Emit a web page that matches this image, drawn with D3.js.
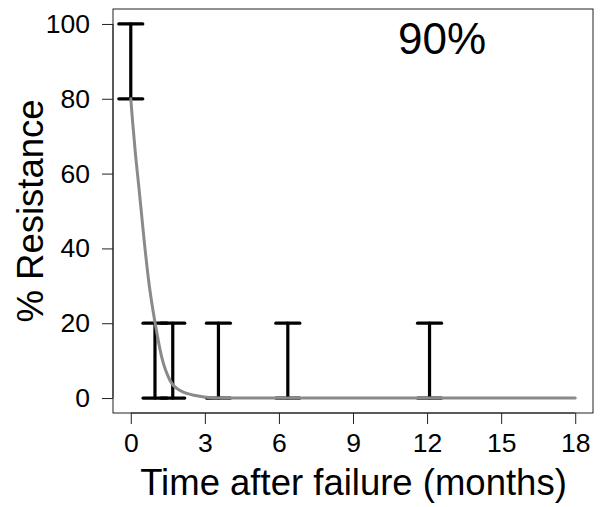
<!DOCTYPE html>
<html>
<head>
<meta charset="utf-8">
<script src="https://cdn.jsdelivr.net/npm/d3@7"></script>
<style>
  body { margin: 0; background: #fff; }
  svg text { font-family: "Liberation Sans", Arial, sans-serif; fill: #000; }
</style>
</head>
<body>
<svg id="chart" width="601" height="507"></svg>
<script>
// error bars: time (months), low and high % resistance
const barTimes = [0, 0.98, 1.7, 3.55, 6.36, 12.1];
const barLow = [80, 0, 0, 0, 0, 0];
const barHigh = [100, 20, 20, 20, 20, 20];

// fitted curve
const curveTimes = [0, 0.08, 0.2, 0.34, 0.54, 0.75, 1.0, 1.25, 1.59, 2.0, 2.67, 3.3, 4, 18];
const curveValues = [80, 73.4, 64.5, 55.6, 42.2, 30, 19.5, 11, 4.7, 2.0, 0.6, 0.1, 0, 0];

const xTicks = [0, 3, 6, 9, 12, 15, 18];
const yTicks = [0, 20, 40, 60, 80, 100];
const panelLabel = "90%";

const svg = d3.select("#chart");

// R-style 4% padding round the data range
const x = d3.scaleLinear().domain([-0.72, 18.72]).range([113, 593]);
const y = d3.scaleLinear().domain([-4, 104]).range([413, 9]);

/*
 *  Box and axes
 */
svg.append("rect")
    .attr("x", x.range()[0]).attr("y", y.range()[1])
    .attr("width", x.range()[1] - x.range()[0])
    .attr("height", y.range()[0] - y.range()[1])
    .attr("fill", "none").attr("stroke", "#222").attr("stroke-width", 1);

const xAxis = svg.append("g")
    .attr("transform", "translate(0," + y.range()[0] + ")")
    .call(d3.axisBottom(x).tickValues(xTicks).tickSize(11).tickPadding(9).tickSizeOuter(0));
xAxis.select(".domain").attr("d", "M" + x(0) + ",0H" + x(18));
xAxis.selectAll("text").attr("font-size", 26.5).attr("font-family", "Liberation Sans, Arial, sans-serif");

const yAxis = svg.append("g")
    .attr("transform", "translate(" + x.range()[0] + ",0)")
    .call(d3.axisLeft(y).tickValues(yTicks).tickSize(11).tickPadding(12).tickSizeOuter(0));
yAxis.select(".domain").attr("d", "M0," + y(0) + "V" + y(100));
yAxis.selectAll("text").attr("font-size", 26.5).attr("font-family", "Liberation Sans, Arial, sans-serif");

svg.selectAll(".domain, .tick line").attr("stroke", "#222");

svg.append("text")
    .attr("x", (x.range()[0] + x.range()[1]) / 2 + 0.5)
    .attr("y", 495)
    .attr("text-anchor", "middle")
    .attr("font-size", 36.5)
    .text("Time after failure (months)");

svg.append("text")
    .attr("transform", "translate(43," + (y.range()[0] + y.range()[1]) / 2 + ") rotate(-90)")
    .attr("text-anchor", "middle")
    .attr("font-size", 36.5)
    .text("% Resistance");

svg.append("text")
    .attr("x", 442).attr("y", 54)
    .attr("text-anchor", "middle")
    .attr("font-size", 44)
    .text(panelLabel);

/*
 *  Error bars (drawn first so the curve sits on top)
 */
const capHalf = 12;
const bars = svg.append("g")
    .attr("stroke", "#000").attr("stroke-width", 3.2).attr("stroke-linecap", "round");

barTimes.forEach(function (t, i) {
    bars.append("line")
        .attr("x1", x(t)).attr("x2", x(t))
        .attr("y1", y(barLow[i])).attr("y2", y(barHigh[i]));
    [barLow[i], barHigh[i]].forEach(function (v) {
        bars.append("line")
            .attr("x1", x(t) - capHalf).attr("x2", x(t) + capHalf)
            .attr("y1", y(v)).attr("y2", y(v));
    });
});

/*
 *  Fitted curve
 */
const line = d3.line()
    .x(function (d) { return x(d[0]); })
    .y(function (d) { return y(d[1]); })
    .curve(d3.curveMonotoneX);

svg.append("path")
    .datum(d3.zip(curveTimes, curveValues))
    .attr("d", line)
    .attr("fill", "none")
    .attr("stroke", "#8a8a8a")
    .attr("stroke-width", 3)
    .attr("stroke-linecap", "round");
</script>
</body>
</html>
